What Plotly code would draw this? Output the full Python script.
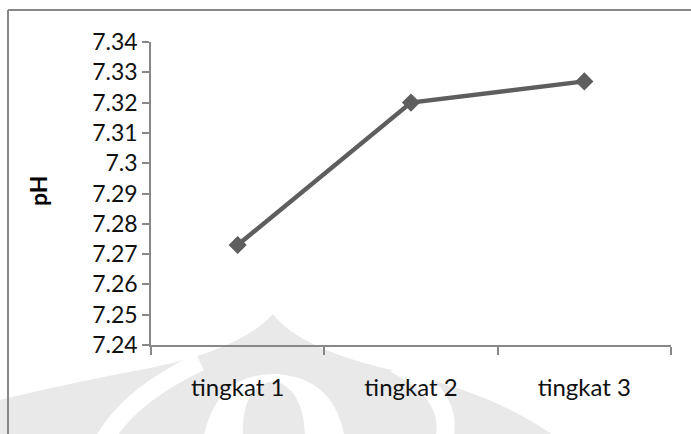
import plotly.graph_objects as go

# Data
categories = ["tingkat 1", "tingkat 2", "tingkat 3"]
ph_values = [7.273, 7.320, 7.327]
y_ticks = [7.24, 7.25, 7.26, 7.27, 7.28, 7.29, 7.30, 7.31, 7.32, 7.33, 7.34]
y_tick_labels = ["7.24", "7.25", "7.26", "7.27", "7.28", "7.29", "7.3", "7.31", "7.32", "7.33", "7.34"]

W, H = 691, 434
ML, MR, MT, MB = 151, 20, 42, 89
PW, PH = W - ML - MR, H - MT - MB

FONT = "Lato, 'Open Sans', sans-serif"
AXIS_GREY = "#888888"
LINE_GREY = "#5e5e5e"
EMBLEM = "#e9e9e9"


def px(x):
    return (x - ML) / PW


def py(y):
    return (H - MB - y) / PH


def path(points, close=True):
    """Build an SVG path in paper coordinates from pixel-space commands."""
    out = []
    for cmd, *coords in points:
        pairs = []
        for i in range(0, len(coords), 2):
            pairs.append(f"{px(coords[i]):.4f},{py(coords[i + 1]):.4f}")
        out.append(cmd + " " + " ".join(pairs))
    return " ".join(out) + (" Z" if close else "")


def fill(points, color):
    return dict(type="path", xref="paper", yref="paper", layer="below",
                path=path(points), fillcolor=color, line=dict(width=0))


def stroke(points, color, width):
    return dict(type="path", xref="paper", yref="paper", layer="below",
                path=path(points, close=False), fillcolor="rgba(0,0,0,0)",
                line=dict(color=color, width=width))


fig = go.Figure()
fig.add_trace(go.Scatter(
    x=categories,
    y=ph_values,
    mode="lines+markers",
    line=dict(color=LINE_GREY, width=4.5),
    marker=dict(symbol="diamond", size=14, color=LINE_GREY),
    showlegend=False,
    cliponaxis=False,
))

# faint emblem in the page background
shapes = [
    # outer dome
    fill([("M", 0, 400), ("Q", 60, 385, 150, 368), ("Q", 240, 350, 273, 314),
          ("Q", 300, 350, 400, 372), ("Q", 500, 395, 560, 440), ("L", 0, 440)], EMBLEM),
    # outer white petals
    stroke([("M", 104, 440), ("Q", 130, 395, 200, 362)], "white", 18),
    stroke([("M", 444, 440), ("Q", 455, 395, 395, 364)], "white", 18),
    # inner white arch and the central lobe inside it
    fill([("M", 203, 440), ("Q", 215, 375, 272, 374), ("Q", 335, 375, 345, 440)], "white"),
    fill([("M", 243, 440), ("Q", 240, 385, 275, 381), ("Q", 305, 390, 305, 440)], EMBLEM),
    # chart frame
    dict(type="line", xref="paper", yref="paper", x0=px(8), x1=px(700), y0=py(10), y1=py(10),
         line=dict(color=AXIS_GREY, width=2)),
    dict(type="line", xref="paper", yref="paper", x0=px(8), x1=px(8), y0=py(10), y1=py(440),
         line=dict(color=AXIS_GREY, width=2)),
]

fig.update_layout(
    width=W, height=H,
    margin=dict(l=ML, r=MR, t=MT, b=MB),
    paper_bgcolor="white",
    plot_bgcolor="rgba(0,0,0,0)",
    font=dict(family=FONT, size=23, color="#111111"),
    shapes=shapes,
    annotations=[dict(
        text="<b>pH</b>", xref="paper", yref="paper", x=px(38), y=py(191),
        showarrow=False, textangle=-90, font=dict(family=FONT, size=23, color="black"),
        xanchor="center", yanchor="middle",
    )],
    xaxis=dict(
        type="category",
        showgrid=False, zeroline=False,
        showline=True, linecolor=AXIS_GREY, linewidth=1.5,
        ticks="outside", tickson="boundaries", ticklen=8, tickcolor=AXIS_GREY, tickwidth=1.5,
        tickfont=dict(size=24), ticklabelstandoff=20,
        range=[-0.5, 2.5],
    ),
    yaxis=dict(
        range=[7.24, 7.34],
        tickvals=y_ticks, ticktext=y_tick_labels,
        showgrid=False, zeroline=False,
        showline=True, linecolor=AXIS_GREY, linewidth=1.5,
        ticks="outside", ticklen=7, tickcolor=AXIS_GREY, tickwidth=1.5,
        tickfont=dict(size=23),
    ),
)

fig.write_html("out.html")
